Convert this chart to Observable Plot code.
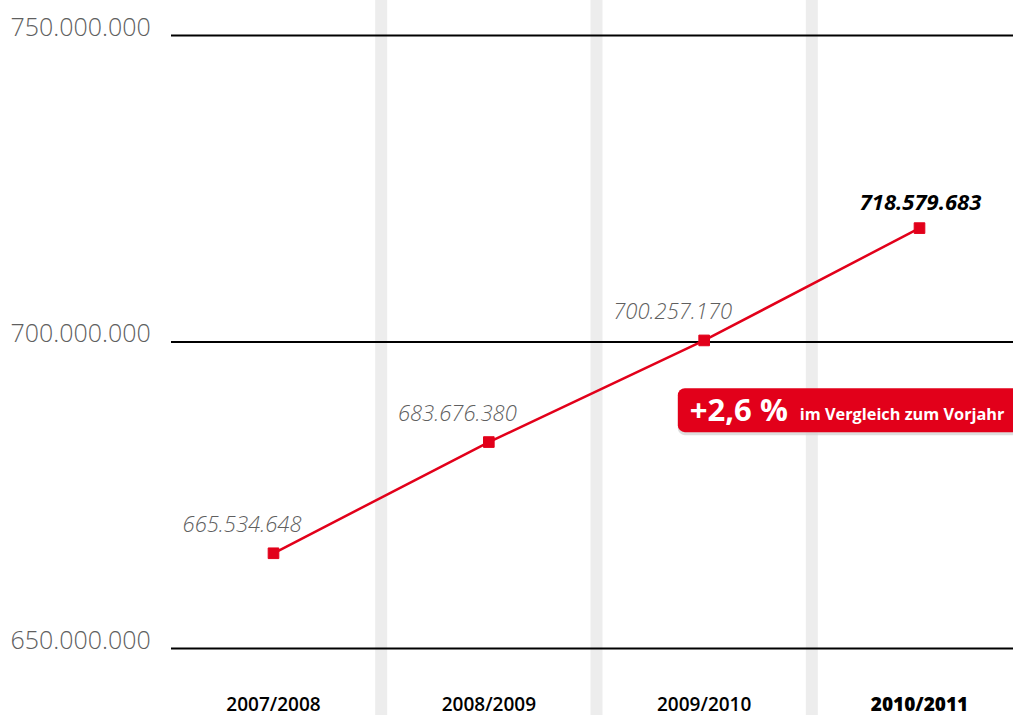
<!DOCTYPE html>
<html><head><meta charset="utf-8">
<script src="https://cdn.jsdelivr.net/npm/d3@7"></script>
<script src="https://cdn.jsdelivr.net/npm/@observablehq/plot@0.6"></script>
<style>body{margin:0;background:#fff} #chart{position:relative;width:1013px;height:720px;overflow:hidden}</style>
</head><body><div id="chart"></div>
<script>
const seasons = ["2007/2008", "2008/2009", "2009/2010", "2010/2011"];
const totals = [665534648, 683676380, 700257170, 718579683];
const yTicks = [650000000, 700000000, 750000000];
const changeLabel = "+2,6 %";
const changeText = "im Vergleich zum Vorjahr";

const data = seasons.map((s, i) => ({i, season: s, value: totals[i]}));
const de = d3.formatLocale({decimal: ",", thousands: ".", grouping: [3], currency: ["", "€"]});
const fmt = de.format(",d");
const red = "#e2001a";
const font = "'Open Sans', 'DejaVu Sans', sans-serif";
const past = data.slice(0, 3), last = data.slice(3);

const chart = Plot.plot({
  width: 1013, height: 720,
  marginLeft: 171, marginRight: 0, marginTop: 35, marginBottom: 72,
  style: {fontFamily: font, background: "#fff", overflow: "visible"},
  x: {type: "linear", domain: [0, 3], range: [273, 919], axis: null},
  y: {domain: [650e6, 750e6], axis: null},
  marks: [
    Plot.ruleX([0.5, 1.5, 2.5], {stroke: "#ededed", strokeWidth: 12, insetTop: -35, insetBottom: -67}),
    Plot.ruleY(yTicks, {stroke: "#000", strokeWidth: 1.8}),
    Plot.text(yTicks, {y: d => d, text: d => fmt(d), frameAnchor: "left", textAnchor: "start", dx: -161, dy: -8, fontSize: 25, fontWeight: 300, fill: "#5f5f5f"}),
    Plot.line(data, {x: "i", y: "value", stroke: red, strokeWidth: 2.5}),
    Plot.dot(data, {x: "i", y: "value", symbol: "square", r: 6, fill: red, stroke: red, strokeWidth: 1, strokeLinejoin: "round"}),
    Plot.text(past, {x: "i", y: "value", text: d => fmt(d.value), textAnchor: "end", dx: 28, dy: -28, fontSize: 22, fontWeight: 300, fontStyle: "italic", fill: "#5f5f5f"}),
    Plot.text(last, {x: "i", y: "value", text: d => fmt(d.value), textAnchor: "middle", dx: 1, dy: -25, fontSize: 22, fontWeight: 700, fontStyle: "italic", fill: "#000"}),
    Plot.text(past, {x: "i", text: "season", frameAnchor: "bottom", dy: 62, fontSize: 19, fontWeight: 600, fill: "#000"}),
    Plot.text(last, {x: "i", text: "season", frameAnchor: "bottom", dy: 62, fontSize: 19, fontWeight: 800, fill: "#000"})
  ]
});

// badge annotation, anchored in data coordinates
const xs = chart.scale("x"), ys = chart.scale("y");
const bx = xs.apply(1.88), by = ys.apply(688.8e6);
const g = d3.select(chart).append("g").attr("text-anchor", "start");
g.append("rect").attr("x", bx).attr("y", by - 19).attr("width", 400).attr("height", 44).attr("rx", 7).attr("fill", "#d0d0d0").attr("opacity", 0.7);
g.append("rect").attr("x", bx).attr("y", by - 22).attr("width", 400).attr("height", 44).attr("rx", 7).attr("fill", red);
g.append("text").attr("x", bx + 12).attr("y", by + 11).attr("fill", "#fff").attr("font-family", font).attr("font-weight", 700).attr("font-size", 31).attr("text-anchor", "start").text(changeLabel);
g.append("text").attr("x", bx + 122).attr("y", by + 10).attr("fill", "#fff").attr("font-family", font).attr("font-weight", 700).attr("font-size", 16.3).attr("text-anchor", "start").text(changeText);

document.getElementById("chart").appendChild(chart);
</script>
</body></html>
